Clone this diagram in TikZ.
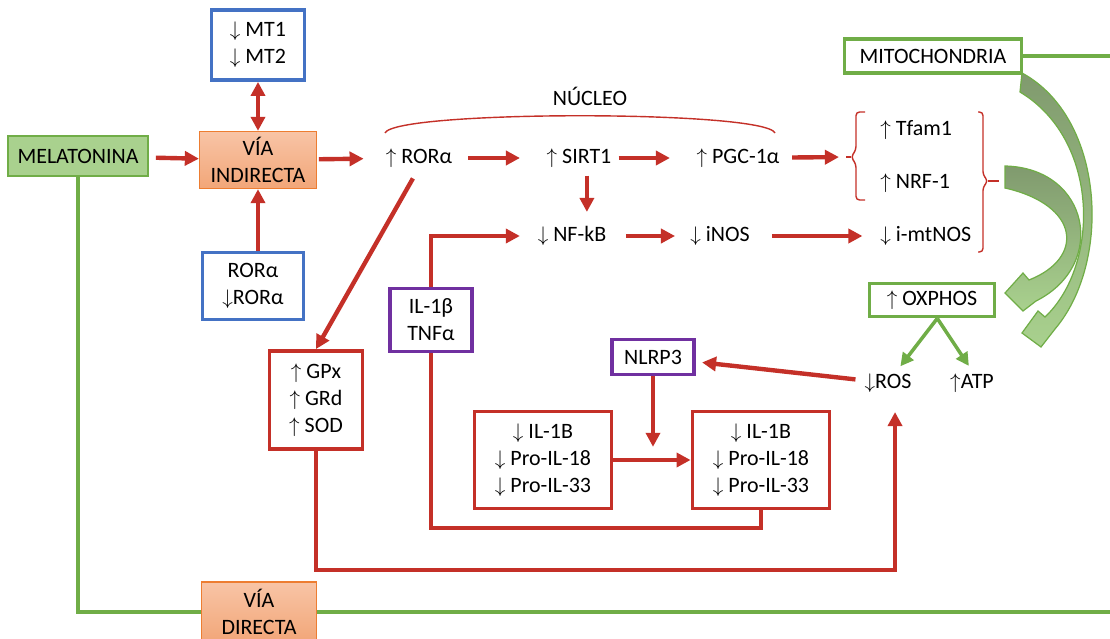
\documentclass[tikz,border=0pt]{standalone}
\usepackage{fontspec}
\setmainfont{Carlito}
\usepackage{tikz}
\usetikzlibrary{positioning}
\usetikzlibrary{arrows.meta}
\usetikzlibrary{calc}
\definecolor{rojo}{RGB}{196,48,40}
\definecolor{azul}{RGB}{68,114,196}
\definecolor{morado}{RGB}{112,48,160}
\definecolor{verde}{RGB}{112,173,71}
\definecolor{verdeclaro}{RGB}{169,209,142}
\definecolor{verdeoscuro}{RGB}{128,154,110}
\definecolor{naranja}{RGB}{237,125,49}
\definecolor{naranjaclaro}{RGB}{248,196,166}
\definecolor{naranjafill}{RGB}{242,166,120}
\newcommand{\subir}{$\uparrow$}
\newcommand{\bajar}{$\downarrow$}
\tikzstyle{box}=[rectangle,draw,align=center,inner sep=0pt,line width=2.2pt,fill=white]
\tikzstyle{redbox}=[box,draw=rojo]
\tikzstyle{bluebox}=[box,draw=azul]
\tikzstyle{purplebox}=[box,draw=morado]
\tikzstyle{greenbox}=[box,draw=verde]
\tikzstyle{melbox}=[box,draw=verde,line width=0.9pt,fill=verdeclaro,minimum width=2.8cm,minimum height=0.8cm]
\tikzstyle{viabox}=[rectangle,draw=naranja,line width=0.7pt,align=center,top color=naranjaclaro,bottom color=naranjafill]
\tikzstyle{txt}=[inner sep=0pt]
\tikzstyle{redarrow}=[draw=rojo,line width=2.5pt,-{Triangle[length=8pt,width=8pt]}]
\tikzstyle{redline}=[draw=rojo,line width=2pt]
\tikzstyle{greenline}=[draw=verde,line width=2pt]
\tikzstyle{greenarrow}=[greenline,-{Triangle[length=7.5pt,width=7.5pt]}]
\tikzstyle{bigarrow}=[draw=verde,line width=0.7pt,top color=verdeoscuro,bottom color=verdeclaro]
\tikzset{brace/.style={draw=rojo,line width=0.8pt}}

\begin{document}
\begin{tikzpicture}[x=0.02cm, y=-0.02cm, font=\fontsize{12.5}{15.3}\selectfont]

  \useasboundingbox (0,0) rectangle (1110,639);

  % flechas grandes de la mitocondria
  \path[bigarrow] (1022,333) -- (1038,311) -- (1045,317) .. controls (1100,265) and (1100,140) .. (1020,92)
        -- (1022,73) .. controls (1105,118) and (1112,262) .. (1055,329) -- (1041,347) -- cycle;
  \path[bigarrow] (1005,293) -- (1023,273) -- (1029,280) .. controls (1085,258) and (1080,205) .. (1005,188)
        -- (1005,166) .. controls (1090,168) and (1108,265) .. (1036,301) -- (1023,311) -- cycle;

  \node[melbox] (melatonina) at (78,156) {MELATONINA};
  \node[viabox, minimum width=2.34cm, minimum height=1.14cm] (indirecta) at (258,160) {VÍA\\INDIRECTA};
  \node[viabox, minimum width=2.3cm, minimum height=1.2cm] (directa) at (259,612) {VÍA\\DIRECTA};

  \foreach \x/\y/\name/\w/\h/\etiq in {258/45/mt/1.86/1.4/{\bajar\ MT1\\\bajar\ MT2}, 253/286/rorbox/2.02/1.34/{RORα\\\bajar RORα}}
          \node[bluebox, minimum width=\w cm, minimum height=\h cm] (\name) at (\x,\y) {\etiq};

  \foreach \x/\y/\name/\w/\h/\etiq in {316/400/gpx/1.86/1.96/{\subir\ GPx\\\subir\ GRd\\\subir\ SOD}, 543/460/ilA/2.74/1.94/{\bajar\ IL-1B\\\bajar\ Pro-IL-18\\\bajar\ Pro-IL-33}, 761/460/ilB/2.74/1.94/{\bajar\ IL-1B\\\bajar\ Pro-IL-18\\\bajar\ Pro-IL-33}}
          \node[redbox, minimum width=\w cm, minimum height=\h cm] (\name) at (\x,\y) {\etiq};

  \foreach \x/\y/\name/\w/\h/\etiq in {431/320/il/1.64/1.26/{IL-1β\\TNFα}, 653/357/nlrp/1.64/0.7/{NLRP3}}
          \node[purplebox, minimum width=\w cm, minimum height=\h cm] (\name) at (\x,\y) {\etiq};

  \foreach \x/\y/\name/\w/\h/\etiq in {933/56/mito/3.54/0.68/{MITOCHONDRIA}, 932/300/oxphos/2.5/0.66/{\subir\ OXPHOS}}
          \node[greenbox, minimum width=\w cm, minimum height=\h cm] (\name) at (\x,\y) {\etiq};

  \foreach \x/\y/\name/\etiq in {419/158/ror/{\subir\ RORα}, 579/158/sirt/{\subir\ SIRT1}, 738/158/pgc/{\subir\ PGC-1α}, 572/236/nfkb/{\bajar\ NF-kB}, 720/236/inos/{\bajar\ iNOS}, 888/383/ros/{\bajar ROS}, 972/383/atp/{\subir ATP}, 590/96/nucleo/{NÚCLEO}}
          \node[txt] (\name) at (\x,\y) {\etiq};

  \foreach \y/\name/\etiq in {130/tfam/{\subir\ Tfam1}, 183/nrf/{\subir\ NRF-1}, 236/mtnos/{\bajar\ i-mtNOS}}
          \node[txt, anchor=west] (\name) at (880,\y) {\etiq};

  % llaves
  \draw[brace] (385,133) .. controls (395,110) and (765,110) .. (775,133);
  \draw[brace, rounded corners=2pt] (865,112) -- (856,112) -- (856,150) -- (851,157) -- (856,164) -- (856,200) -- (865,200);
  \draw[brace] (851,157) -- (846,157);
  \draw[brace, rounded corners=2pt] (978,112) -- (983,112) -- (983,175) -- (988,181) -- (983,187) -- (983,252) -- (978,252);
  \draw[brace] (988,181) -- (999,181);
  \coordinate (llave) at (846,157);

  \foreach \source/\dest/\s/\e in {melatonina/indirecta/4pt/0pt, indirecta/ror/1pt/12.5pt, ror/sirt/9pt/15pt, sirt/pgc/4pt/15pt, pgc/llave/7pt/4pt, nfkb/inos/11pt/8.5pt, inos/mtnos/12.5pt/10pt, ros/nlrp/5pt/3.5pt, ilA/ilB/0pt/0pt}
         \path[redarrow, shorten <=\s, shorten >=\e] (\source) -- (\dest);

  \draw[redarrow, {Triangle[length=8pt,width=8pt]}-{Triangle[length=8pt,width=8pt]}] (mt.south) -- (indirecta.north);
  \draw[redarrow] (rorbox.north -| indirecta.south) -- (indirecta.south);
  \draw[redarrow, shorten <=4.5pt, shorten >=8pt] ([xshift=4.5pt]sirt.south) -- ([xshift=4.5pt]sirt.south |- nfkb.north);
  \draw[redarrow, shorten <=7pt] (ror.south) -- (gpx.north);
  \draw[redarrow, shorten >=10pt] (il.north) |- (nfkb.west);
  \draw[redarrow, shorten >=7.5pt] (nlrp.south) -- (nlrp.south |- ilA.east);

  \coordinate (bajo) at (0,528);
  \coordinate (fondo) at (0,570);
  \draw[redline] (ilB.south) -- (ilB.south |- bajo) -| (il.south);
  \draw[redarrow, line width=2pt, shorten >=11pt] (gpx.south) -- (gpx.south |- fondo) -| ([xshift=4pt]ros.south);

  \draw[greenarrow, shorten >=5pt] ([xshift=3pt]oxphos.south) -- ([xshift=4pt]ros.north);
  \draw[greenarrow, shorten >=5pt] ([xshift=3pt]oxphos.south) -- ([xshift=1pt]atp.north);

  \coordinate (bordeA) at (1110,56);
  \coordinate (bordeB) at (1110,612);
  \draw[greenline] (mito.east) -- (bordeA);
  \draw[greenline] (melatonina.south) |- (directa.west);
  \draw[greenline] (directa.east) -- (bordeB);

\end{tikzpicture}
\end{document}
